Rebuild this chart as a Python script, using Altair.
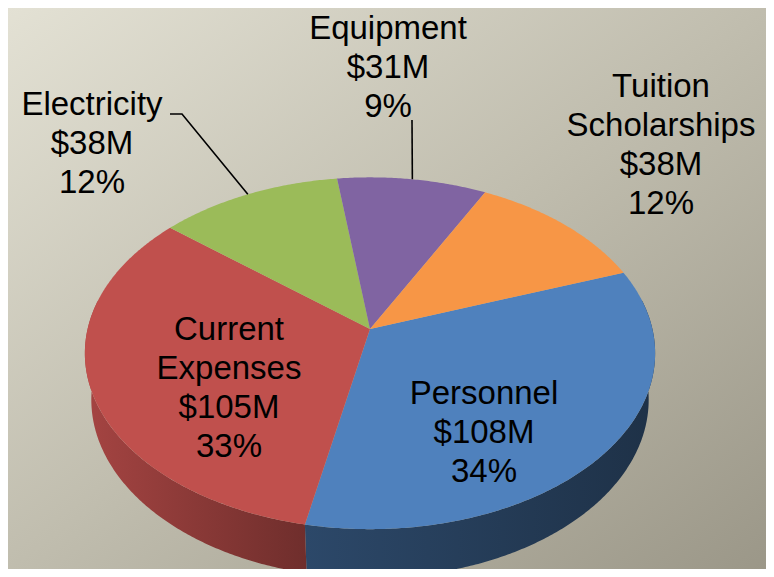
import math
import pandas as pd
import altair as alt

# ---------------- data ----------------
categories = ["Personnel", "Current Expenses", "Electricity", "Equipment", "Tuition Scholarships"]
values_musd = [108, 105, 38, 31, 38]
percents = [34, 33, 12, 9, 12]
colors = ["#4F81BD", "#C0504D", "#9BBB59", "#8064A2", "#F79646"]

# ---------------- layout / style ----------------
W, H = 758, 561
MARGIN = 8
CX, CY = 370 - MARGIN, 329 - MARGIN      # pie apex on screen
SCALE = 1621                              # perspective scale
DIST = 5.74                               # camera distance (pie radius = 1)
TILT = math.asin(0.611)                   # elevation of view
THICK = 0.213                             # pie thickness
START = 70.0                              # start angle, clockwise from 12 o'clock
FONT = "Liberation Sans"
FS = 33
LH = 39
label_pos = {
    "Personnel": (484, 404),
    "Current Expenses": (229, 340),
    "Electricity": (92, 115),
    "Equipment": (388, 39),
    "Tuition Scholarships": (661, 97),
}
leader_start = {
    "Electricity": [(170, 114), (182, 114)],
    "Equipment": [(412, 120)],
}
side_shade = {"Personnel": (0.56, 0.38), "Current Expenses": (0.86, 0.58)}


def shade(hx, f):
    r, g, b = int(hx[1:3], 16), int(hx[3:5], 16), int(hx[5:7], 16)
    return "#%02x%02x%02x" % (int(r * f), int(g * f), int(b * f))


def project(t_deg, r, yw):
    t = math.radians(t_deg)
    X, Z = r * math.sin(t), r * math.cos(t)
    up = yw * math.cos(TILT) + Z * math.sin(TILT)
    dep = DIST + Z * math.cos(TILT) - yw * math.sin(TILT)
    return CX + SCALE * X / dep, CY - SCALE * up / dep


total = sum(values_musd)
angles = []
acc = 0
for v in values_musd:
    t1 = START + 360.0 * acc / total
    acc += v
    t2 = START + 360.0 * acc / total
    angles.append((t1, t2))

# top faces
top_rows = []
for cat, (t1, t2) in zip(categories, angles):
    i = 0
    x, y = project(0, 0, 0)
    top_rows.append({"cat": cat, "i": i, "x": x, "y": y}); i += 1
    n = max(12, int((t2 - t1) * 2))
    for k in range(n + 1):
        t = t1 + (t2 - t1) * k / n
        x, y = project(t, 1, 0)
        top_rows.append({"cat": cat, "i": i, "x": x, "y": y}); i += 1
    x, y = project(0, 0, 0)
    top_rows.append({"cat": cat, "i": i, "x": x, "y": y})
top_df = pd.DataFrame(top_rows)

# visible sides
side_rows = {}
for cat, (t1, t2) in zip(categories, angles):
    lo, hi = max(t1, 80), min(t2, 280)
    if lo >= hi:
        continue
    rows = []
    n = max(12, int((hi - lo) * 2))
    i = 0
    for k in range(n + 1):
        t = lo + (hi - lo) * k / n
        x, y = project(t, 1, 0)
        rows.append({"cat": cat, "i": i, "x": x, "y": y}); i += 1
    for k in range(n, -1, -1):
        t = lo + (hi - lo) * k / n
        x, y = project(t, 1, -THICK)
        rows.append({"cat": cat, "i": i, "x": x, "y": y}); i += 1
    side_rows[cat] = pd.DataFrame(rows)

# labels
lab_rows = []
for cat, v, p in zip(categories, values_musd, percents):
    name = cat.replace(" ", "\n")
    lx, ly = label_pos[cat]
    lab_rows.append({"label": name + "\n$" + str(v) + "M\n" + str(p) + "%",
                     "x": lx - MARGIN, "y": ly - MARGIN})
lab_df = pd.DataFrame(lab_rows)

# leader lines: from label to the rim midpoint of the slice
lead_rows = []
for cat, (t1, t2) in zip(categories, angles):
    if cat not in leader_start:
        continue
    i = 0
    for (px, py) in leader_start[cat]:
        lead_rows.append({"cat": cat, "i": i, "x": px - MARGIN, "y": py - MARGIN}); i += 1
    x, y = project((t1 + t2) / 2, 1, 0)
    lead_rows.append({"cat": cat, "i": i, "x": x, "y": y})
lead_df = pd.DataFrame(lead_rows)

xs = alt.Scale(domain=[0, W], nice=False, zero=False)
ys = alt.Scale(domain=[0, H], nice=False, zero=False, reverse=True)
X = alt.X("x:Q", scale=xs, axis=None)
Y = alt.Y("y:Q", scale=ys, axis=None)

bg = alt.Chart(alt.Data(values=[{}])).mark_rect(
    color=alt.Gradient(gradient="linear", x1=0, y1=0, x2=1, y2=1,
                       stops=[alt.GradientStop(color="#e3e1d4", offset=0),
                              alt.GradientStop(color="#c0bdae", offset=0.5),
                              alt.GradientStop(color="#9b9788", offset=1)])
).encode(x=alt.value(0), x2=alt.value(W), y=alt.value(0), y2=alt.value(H))

layers = [bg]
for cat, df in side_rows.items():
    base = colors[categories.index(cat)]
    f1, f2 = side_shade.get(cat, (0.6, 0.45))
    layers.append(
        alt.Chart(df).mark_line(
            filled=True, clip=True,
            color=alt.Gradient(gradient="linear", x1=0, y1=0, x2=1, y2=0,
                               stops=[alt.GradientStop(color=shade(base, f1), offset=0),
                                      alt.GradientStop(color=shade(base, f2), offset=1)])
        ).encode(x=X, y=Y, order="i:Q")
    )

top = alt.Chart(top_df).mark_line(filled=True, clip=True).encode(
    x=X, y=Y, order="i:Q",
    color=alt.Color("cat:N", scale=alt.Scale(domain=categories, range=colors), legend=None),
)
layers.append(top)

leaders = alt.Chart(lead_df).mark_line(color="black", strokeWidth=1.6).encode(
    x=X, y=Y, order="i:Q", detail="cat:N")
layers.append(leaders)

labels = alt.Chart(lab_df).mark_text(
    font=FONT, fontSize=FS, lineHeight=LH, lineBreak="\n",
    align="center", baseline="alphabetic", color="black"
).encode(x=X, y=Y, text="label:N")
layers.append(labels)

chart = alt.layer(*layers).properties(width=W, height=H).configure_view(
    stroke=None).configure(background="#c4c1b2", padding=0)

chart.save("out.html", embed_options={"renderer": "svg", "actions": False})
